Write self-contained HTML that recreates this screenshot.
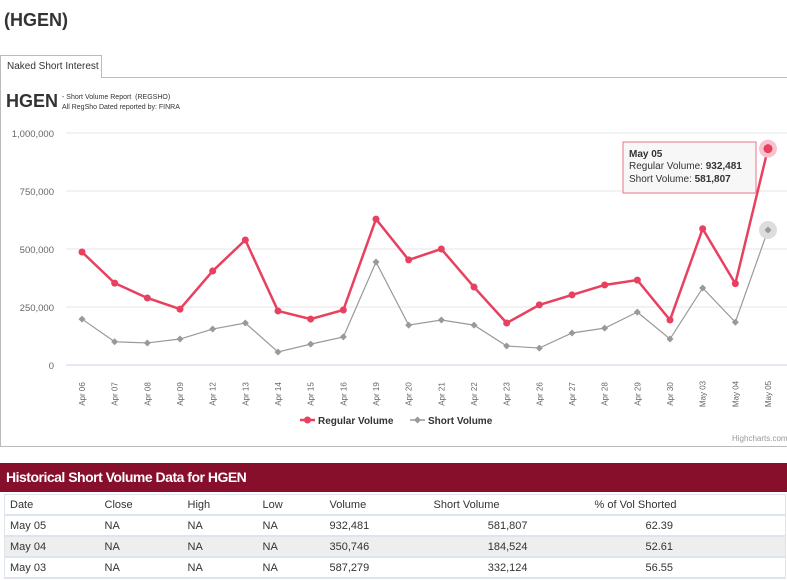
<!DOCTYPE html>
<html><head><meta charset="utf-8"><style>
body{margin:0;width:787px;height:580px;overflow:hidden;background:#fff;font-family:"Liberation Sans",sans-serif;color:#333;position:relative}
.abs{position:absolute}
table{border-collapse:collapse;width:782px;font-size:11px;table-layout:fixed}
td{height:19px;border-bottom:2px solid #dde4ef;padding:0 5px;white-space:nowrap}
</style></head><body>
<div class="abs" style="left:4px;top:10px;font-size:18px;font-weight:bold;color:#333">(HGEN)</div>
<div class="abs" style="left:0;top:55px;width:100px;height:22px;border:1px solid #bbb;border-bottom:none;background:#fff;font-size:10px;line-height:22px;text-indent:6px;z-index:2">Naked Short Interest</div>
<div class="abs" style="left:0;top:77px;width:800px;height:368px;border:1px solid #bbb;border-right:none"></div>
<div class="abs" style="left:6px;top:91px;font-size:18px;font-weight:bold">HGEN</div>
<div class="abs" style="left:62px;top:93px;font-size:7px;line-height:10px">- Short Volume Report &nbsp;(REGSHO)<br>All RegSho Dated reported by: FINRA</div>
<svg class="abs" style="left:0;top:0" width="787" height="450" id="chart"></svg>
<div class="abs" style="left:732px;top:434px;font-size:8px;color:#999">Highcharts.com</div>
<div class="abs" style="left:0;top:463px;width:787px;height:29px;background:#870f2b;color:#fff;font-size:14px;font-weight:bold;line-height:29px;text-indent:6px;letter-spacing:-0.5px">Historical Short Volume Data for HGEN</div>
<div class="abs" style="left:4px;top:494px">
<table style="border:1px solid #dde4ef">
<colgroup><col style="width:95px"><col style="width:83px"><col style="width:75px"><col style="width:67px"><col style="width:104px"><col style="width:161px"><col></colgroup>
<tr><td>Date</td><td>Close</td><td>High</td><td>Low</td><td>Volume</td><td>Short Volume</td><td>% of Vol Shorted</td></tr>
<tr><td>May 05</td><td>NA</td><td>NA</td><td>NA</td><td>932,481</td><td style="text-align:right;padding-right:62px">581,807</td><td style="text-align:right;padding-right:112px">62.39</td></tr>
<tr style="background:#eee"><td>May 04</td><td>NA</td><td>NA</td><td>NA</td><td>350,746</td><td style="text-align:right;padding-right:62px">184,524</td><td style="text-align:right;padding-right:112px">52.61</td></tr>
<tr><td>May 03</td><td>NA</td><td>NA</td><td>NA</td><td>587,279</td><td style="text-align:right;padding-right:62px">332,124</td><td style="text-align:right;padding-right:112px">56.55</td></tr>
</table></div>
<script>
const categories=["Apr 06","Apr 07","Apr 08","Apr 09","Apr 12","Apr 13","Apr 14","Apr 15","Apr 16","Apr 19","Apr 20","Apr 21","Apr 22","Apr 23","Apr 26","Apr 27","Apr 28","Apr 29","Apr 30","May 03","May 04","May 05"];
const regularVolume=[487000,353000,289000,241000,405000,539000,233000,198000,237000,629000,453000,500000,336000,181000,259000,302000,345000,366000,194000,587279,350746,932481];
const shortVolume=[198000,100000,95000,112000,155000,181000,56000,90000,121000,444000,172000,194000,172000,82000,73000,138000,159000,228000,112000,332124,184524,581807];
const yTicks=[0,250000,500000,750000,1000000];
const yTickLabels=["0","250,000","500,000","750,000","1,000,000"];
const svg=document.getElementById('chart');const NS='http://www.w3.org/2000/svg';
const x0=82,x1=768,yb=365,yt=133,yMax=1000000;
const xs=i=>x0+(x1-x0)*i/(categories.length-1);
const ys=v=>yb-(yb-yt)*v/yMax;
function mk(t,a,p){const e=document.createElementNS(NS,t);for(const k in a)e.setAttribute(k,a[k]);(p||svg).appendChild(e);return e;}
yTicks.forEach((t,i)=>{
 const l=mk('line',{x1:66,x2:787,y1:ys(t),y2:ys(t),stroke:i==0?'#ccd6eb':'#e6e6e6','stroke-width':1});
 
 
 const tx=mk('text',{x:54,y:ys(t)+4,'text-anchor':'end','font-size':'9.5','fill':'#666'});tx.textContent=yTickLabels[i];
 
 
});
categories.forEach((c,i)=>{
 const tx=mk('text',{transform:`translate(${xs(i)+3},394) rotate(-90)`,'text-anchor':'middle','font-size':'8','fill':'#666'});tx.textContent=c;
 
 
});
function series(vals,color,w,name,diamond){
 const p=mk('polyline',{points:vals.map((v,i)=>xs(i)+','+ys(v)).join(' '),fill:'none',stroke:color,'stroke-width':w});
 
 
 vals.forEach((v,i)=>{
  let m;
  if(i==vals.length-1){mk('circle',{cx:xs(i),cy:ys(v),r:9,fill:diamond?'#ddd':'#f7c3cf'});}
  if(diamond){const x=xs(i),y=ys(v),r=3.5;m=mk('polygon',{points:`${x},${y-r} ${x+r},${y} ${x},${y+r} ${x-r},${y}`,fill:color});}
  else m=mk('circle',{cx:xs(i),cy:ys(v),r:i==vals.length-1?4.5:3.5,fill:color});
  
  
 });
}
series(shortVolume,'#999',1.2,'short-volume',true);
series(regularVolume,'#e8405f',2.5,'regular-volume',false);
const lg=mk('g',{});
mk('line',{x1:300,x2:315,y1:420,y2:420,stroke:'#e8405f','stroke-width':2.5},lg);
mk('circle',{cx:307.5,cy:420,r:3.5,fill:'#e8405f'},lg);
let t=mk('text',{x:318,y:424,'font-size':'10','font-weight':'bold',fill:'#333'},lg);t.textContent='Regular Volume';


mk('line',{x1:410,x2:425,y1:420,y2:420,stroke:'#999','stroke-width':1.5},lg);
mk('polygon',{points:'417.5,416.5 421,420 417.5,423.5 414,420',fill:'#999'},lg);
t=mk('text',{x:428,y:424,'font-size':'10','font-weight':'bold',fill:'#333'},lg);t.textContent='Short Volume';


const tg=mk('g',{});
mk('rect',{x:623,y:142,width:133,height:51,fill:'#f7f7f7',stroke:'#e8738a','stroke-width':1},tg);
const last=categories.length-1;
const fmt=v=>v.toLocaleString('en-US');
t=mk('text',{x:629,y:157,'font-size':'10','font-weight':'bold',fill:'#333'},tg);t.textContent=categories[last];
t=mk('text',{x:629,y:169,'font-size':'10',fill:'#333'},tg);t.innerHTML='Regular Volume: <tspan font-weight="bold">'+fmt(regularVolume[last])+'</tspan>';
t=mk('text',{x:629,y:182,'font-size':'10',fill:'#333'},tg);t.innerHTML='Short Volume: <tspan font-weight="bold">'+fmt(shortVolume[last])+'</tspan>';
</script>
</body></html>
